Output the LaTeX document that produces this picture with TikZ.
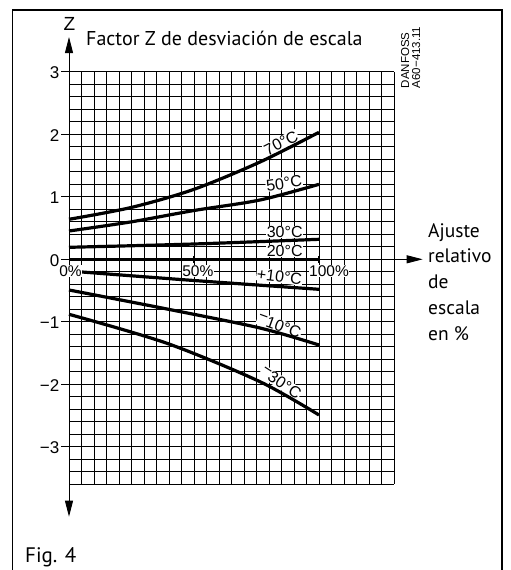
\documentclass[tikz,border=0pt]{standalone}
\usepackage{fontspec}
\setmainfont{PT Sans}
\newfontfamily\helv{Liberation Sans}
\usetikzlibrary{arrows.meta}
\begin{document}
\begin{tikzpicture}[x=1pt,y=-1pt,
  gridline/.style={line width=0.8pt},
  curve/.style={line width=3.2pt},
  frameline/.style={line width=1.2pt},
  axisline/.style={line width=0.9pt},
  clabel/.style={fill=white, inner sep=0.6pt, font=\helv\fontsize{16}{16}\selectfont},
  ticklabel/.style={anchor=east, inner sep=0pt, font=\helv\fontsize{17}{18}\selectfont},
  pctlabel/.style={fill=white, inner sep=0.6pt, font=\helv\fontsize{15.5}{16}\selectfont},
  bigtext/.style={inner sep=0pt, font=\fontsize{20}{22}\selectfont},
  tip/.style={-{Triangle[length=16pt,width=8pt]}}]
\useasboundingbox (0,0) rectangle (511,570);
% frame
\draw[frameline] (12.5,572) -- (12.5,10) -- (502,10) -- (502,572);
% grid
\foreach \i in {0,...,26} \draw[gridline] ({69+12.5*\i},71.8) -- ({69+12.5*\i},484.3);
\foreach \j in {0,...,33} \draw[gridline] (69,{71.8+12.5*\j}) -- (394,{71.8+12.5*\j});
% y ticks and labels
\foreach \z/\t in {3/3,2/2,1/1,0/0,-1/{−1},-2/{−2},-3/{−3}}{
  \draw[gridline] (61,{259.3-62.5*\z}) -- (69,{259.3-62.5*\z});
  \node[ticklabel] (tick\z) at (59.5,{260.3-62.5*\z}) {\t};
}
% axes
\coordinate (origin) at (69,259.3);
\coordinate (ztop) at (69,37);
\coordinate (zbot) at (69,516.7);
\coordinate (xend) at (422.7,259.3);
\draw[axisline,tip] (origin) -- (ztop);
\draw[axisline,tip] (origin) -- (zbot);
\draw[axisline,tip] (origin) -- (xend);
\draw[line width=1.4pt] (194,255.5) -- (194,263);
\draw[line width=1.4pt] (319,255.5) -- (319,263);
% curve labels
\node[clabel, rotate=27] (l70) at (281,143) {70°C};
\node[clabel, rotate=8] (l50) at (284,183.3) {50°C};
\node[clabel] (l30) at (284.7,232.2) {30°C};
\node[clabel] (l20) at (284.7,251.2) {20°C};
\node[clabel, rotate=-7] (lp10) at (279.5,276.7) {+10°C};
\node[clabel, rotate=-20] (lm10) at (279.2,325.8) {\raisebox{.28em}{−}10°C};
\node[clabel, rotate=-33] (lm30) at (280.8,382.5) {\raisebox{.28em}{−}30°C};
% curves
\draw[curve] plot[smooth] coordinates {(69,219.3) (131.5,207.4) (194,189.3) (260,162) (319,132.3)};
\draw[curve] plot[smooth] coordinates {(69,231) (131.5,221.8) (194,210.5) (260,200) (319,184.3)};
\draw[curve] plot[smooth] coordinates {(69,247.3) (194,244) (319,239.3)};
\draw[curve] (69,259.3) -- (319,259.3);
\draw[curve] plot[smooth] coordinates {(69,271) (194,280.5) (319,289.3)};
\draw[curve] plot[smooth] coordinates {(69,290) (167,309) (260,328) (319,345)};
\draw[curve] plot[smooth] coordinates {(69,314.3) (167,343.3) (260,381.7) (319,415)};
% axis percentage labels
\node[pctlabel] (p0) at (70.5,270.8) {0\%};
\node[pctlabel] (p50) at (197.8,270.8) {50\%};
\node[pctlabel] (p100) at (329,270.8) {100\%};
% texts
\node[inner sep=0pt, font=\helv\fontsize{19}{20}\selectfont] (zlab) at (69.5,23.5) {Z};
\node[bigtext, anchor=base west] (title) at (86,45) {Factor Z de desviación de escala};
\node[bigtext, anchor=north west, align=left, font=\fontsize{19.5}{25.8}\selectfont] (xlab) at (428,223) {Ajuste\\relativo\\de\\escala\\en \%};
\node[inner sep=0pt, rotate=90, anchor=north west, align=left, font=\helv\fontsize{11.5}{11}\selectfont] (code) at (401,88.3) {DANFOSS\\A60−413.11};
\node[bigtext, anchor=base west, font=\fontsize{21}{22}\selectfont] (fig) at (25,562.7) {Fig. 4};
\end{tikzpicture}
\end{document}
